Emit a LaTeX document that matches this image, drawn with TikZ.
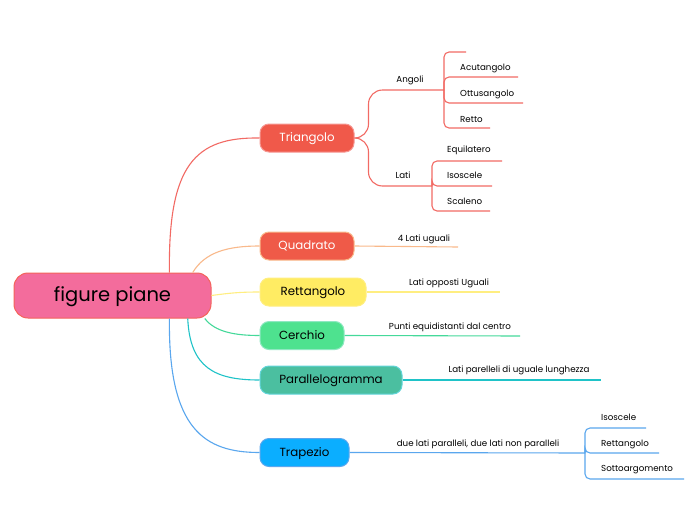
\documentclass[tikz,border=0pt]{standalone}
\usepackage{fontspec}
\setmainfont{Poppins}
\usepackage{xcolor}
\usetikzlibrary{positioning}

\definecolor{rootfill}{HTML}{F36C9C}
\definecolor{rootline}{HTML}{F4635A}
\definecolor{trifill}{HTML}{F0594A}
\definecolor{triline}{HTML}{F26A64}
\definecolor{quadfill}{HTML}{EF5A48}
\definecolor{quadline}{HTML}{F9B98B}
\definecolor{retfill}{HTML}{FFEC63}
\definecolor{retline}{HTML}{FFEE80}
\definecolor{cerfill}{HTML}{4EE28F}
\definecolor{cerline}{HTML}{45D99A}
\definecolor{parfill}{HTML}{4BBFA0}
\definecolor{parline}{HTML}{1FC3C8}
\definecolor{trafill}{HTML}{0BAEFF}
\definecolor{traline}{HTML}{5AA7EE}

\begin{document}
\begin{tikzpicture}[x=1pt,y=-1pt,
    topic/.style={rectangle, rounded corners=9pt, draw, line width=1pt, minimum height=28pt, inner sep=0pt, text height=7pt, text depth=0pt, font=\fontsize{11.8}{13}\selectfont},
    note/.style={inner sep=0pt, anchor=base, font=\fontsize{8.7}{10}\selectfont},
    link/.style={line width=1.1pt}]
  \useasboundingbox[fill=white] (0,0) rectangle (697,520);

  % Define topics
  \node[topic, fill=rootfill, draw=rootline, minimum width=197pt, minimum height=45pt, rounded corners=14pt, text height=11pt, font=\fontsize{19.5}{22}\selectfont] (root) at (112.5,295.5) {figure piane};
  \node[topic, fill=trifill, draw=triline!70, text=white, minimum width=94pt] (tri) at (307,138) {Triangolo};
  \node[topic, fill=quadfill, draw=quadline, text=white, minimum width=94pt] (quad) at (307,246) {Quadrato};
  \node[topic, fill=retfill, draw=retline, minimum width=106pt] (ret) at (313,292) {Rettangolo};
  \node[topic, fill=cerfill, draw=cerline!60, minimum width=84pt] (cer) at (302,335.5) {Cerchio};
  \node[topic, fill=parfill, draw=parline!70, minimum width=142pt] (par) at (331,380) {Parallelogramma};
  \node[topic, fill=trafill, draw=traline, minimum width=89pt] (tra) at (304.5,452.5) {Trapezio};

  % Draw branches from the root
  \draw[link, triline] (root.22) .. controls (168,165) and (195,137) .. (tri.west);
  \draw[link, quadline] (root.16) .. controls (205,252) and (228,246) .. (quad.west);
  \draw[link, retline] (root.east) .. controls (230,293) and (240,292) .. (ret.west);
  \draw[link, cerline] (root.-14) .. controls (215,332) and (235,335.5) .. (cer.west);
  \draw[link, parline] (root.-17) .. controls (190,368) and (215,380) .. (par.west);
  \draw[link, traline] (root.-22) .. controls (168,430) and (205,452.5) .. (tra.west);

  % Triangolo: Angoli and Lati
  \coordinate (angj) at (444,90);
  \coordinate (latj) at (432,186);
  \node[note] (ang) at (410,82.5) {Angoli};
  \node[note] (lat) at (403,178.5) {Lati};
  \draw[link, triline, rounded corners=14pt] (tri.east) -- ++(14,0) |- (angj);
  \draw[link, triline, rounded corners=14pt] (tri.east) -- ++(14,0) |- (latj);

  \coordinate (ang0) at (466,52);
  \coordinate (acuend) at (518,77);
  \coordinate (ottend) at (523,103);
  \coordinate (retend) at (490,128);
  \node[note, anchor=base west] (acu) at (460,70.5) {Acutangolo};
  \node[note, anchor=base west] (ott) at (460,96.5) {Ottusangolo};
  \node[note, anchor=base west] (rett) at (460,122.5) {Retto};
  \foreach \e in {ang0,acuend,ottend,retend}
    \draw[link, triline, rounded corners=5pt] (angj) |- (\e);

  \coordinate (equend) at (502,161);
  \coordinate (isoend) at (492,186);
  \coordinate (scaend) at (490,211);
  \node[note, anchor=base west] (equ) at (447,152.5) {Equilatero};
  \node[note, anchor=base west] (iso) at (447,178.5) {Isoscele};
  \node[note, anchor=base west] (sca) at (447,204.5) {Scaleno};
  \foreach \e in {equend,isoend,scaend}
    \draw[link, triline, rounded corners=5pt] (latj) |- (\e);

  % Notes under the other topics
  \coordinate (quadend) at (458,247);
  \coordinate (retnend) at (500,292);
  \coordinate (cerend) at (520,336);
  \coordinate (parend) at (601,380);
  \node[note] (quadn) at (424,241.5) {4 Lati uguali};
  \node[note] (retn) at (449,285.5) {Lati opposti Uguali};
  \node[note] (cern) at (450,329.5) {Punti equidistanti dal centro};
  \node[note] (parn) at (519,372.5) {Lati parelleli di uguale lunghezza};
  \draw[link, quadline] (quad.east) -- (quadend);
  \draw[link, retline] (ret.east) -- (retnend);
  \draw[link, cerline] (cer.east) -- (cerend);
  \draw[link, parline] (par.east) -- (parend);

  % Trapezio
  \coordinate (traj) at (585,453);
  \node[note] (tran) at (478,446.5) {due lati paralleli, due lati non paralleli};
  \draw[link, traline] (tra.east) -- (traj);
  \coordinate (isotend) at (646,428);
  \coordinate (rettend) at (659,453);
  \coordinate (sotend) at (684,479);
  \node[note, anchor=base west] (isot) at (601,420.5) {Isoscele};
  \node[note, anchor=base west] (rettt) at (601,446.5) {Rettangolo};
  \node[note, anchor=base west] (sot) at (601,471.5) {Sottoargomento};
  \foreach \e in {isotend,rettend,sotend}
    \draw[link, traline, rounded corners=5pt] (traj) |- (\e);
\end{tikzpicture}
\end{document}
